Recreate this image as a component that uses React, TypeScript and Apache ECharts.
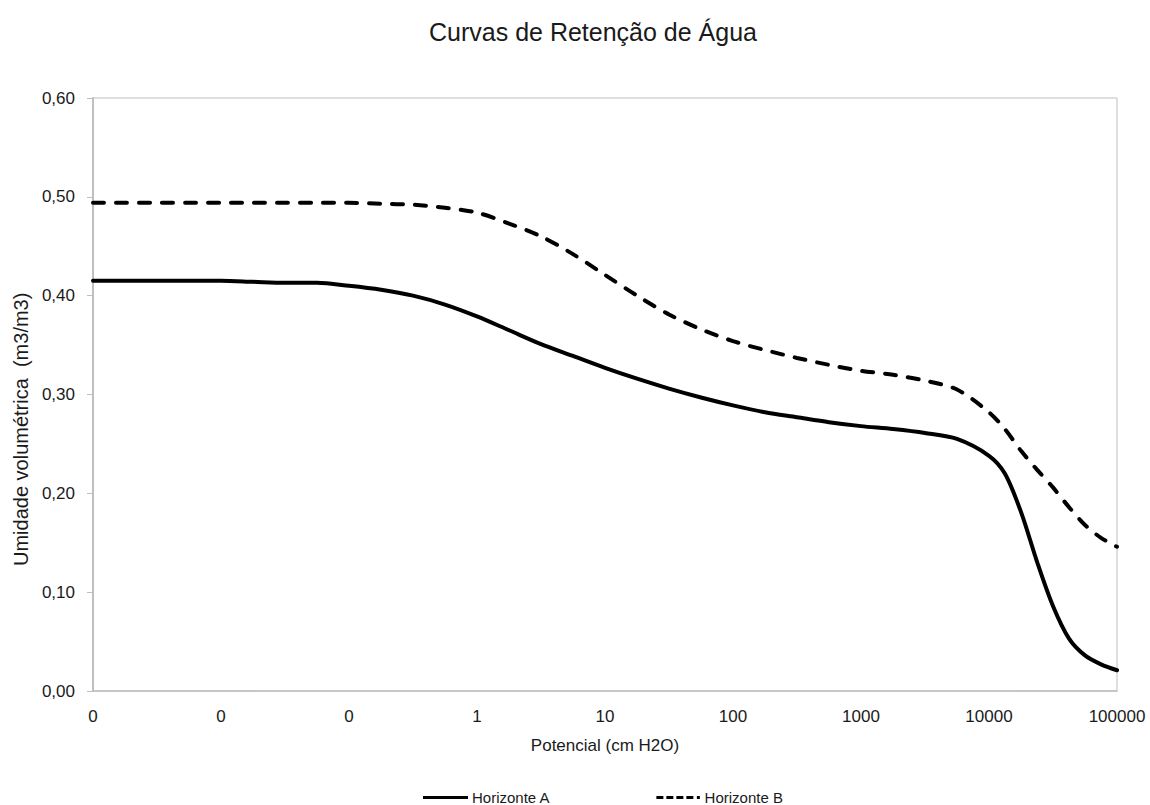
import React, { useEffect, useRef } from "react";
import * as echarts from "echarts";

const potencial: number[] = [
  0.001, 0.00178, 0.00316, 0.00562, 0.01, 0.0178, 0.0316, 0.0562, 0.1, 0.178,
  0.316, 0.562, 1, 1.78, 3.16, 5.62, 10, 17.8, 31.6, 56.2, 100, 178, 316, 562,
  1000, 1780, 3160, 5620, 10000, 13300, 17800, 23700, 31600, 42200, 56200,
  75000, 100000,
];

const horizonteA: number[] = [
  0.415, 0.415, 0.415, 0.415, 0.415, 0.414, 0.413, 0.413, 0.41, 0.406, 0.4,
  0.391, 0.379, 0.365, 0.351, 0.339, 0.327, 0.316, 0.306, 0.297, 0.289, 0.282,
  0.277, 0.272, 0.268, 0.265, 0.261, 0.255, 0.238, 0.22, 0.181, 0.131, 0.086,
  0.053, 0.036, 0.027, 0.021,
];

const horizonteB: number[] = [
  0.494, 0.494, 0.494, 0.494, 0.494, 0.494, 0.494, 0.494, 0.494, 0.493, 0.492,
  0.489, 0.484, 0.473, 0.46, 0.442, 0.421, 0.4, 0.381, 0.366, 0.354, 0.345,
  0.337, 0.33, 0.324, 0.32, 0.314, 0.305, 0.282, 0.265, 0.243, 0.224, 0.206,
  0.186, 0.168, 0.155, 0.146,
];

const seriesNames: string[] = ["Horizonte A", "Horizonte B"];
const titleText = "Curvas de Retenção de Água";
const xAxisName = "Potencial (cm H2O)";
const yAxisName = "Umidade volumétrica  (m3/m3)";

const FONT = "'Liberation Sans', Arial, sans-serif";
const AXIS_GRAY = "#bfbfbf";
const TEXT = "#1a1a1a";

const ICON_SOLID = "path://M0,0h45v3h-45z";
const ICON_DASH =
  "path://M0,0h7v3h-7z M10,0h7v3h-7z M20,0h7v3h-7z M30,0h7v3h-7z M40.5,0h3v3h-3z";

export default function App() {
  const ref = useRef<HTMLDivElement>(null);

  useEffect(() => {
    document.body.style.margin = "0";
    if (!ref.current) return;
    const chart = echarts.init(ref.current, undefined, { renderer: "svg" });
    const dataA = potencial.map((x, i) => [x, horizonteA[i]]);
    const dataB = potencial.map((x, i) => [x, horizonteB[i]]);
    chart.setOption({
      animation: false,
      backgroundColor: "#ffffff",
      textStyle: { fontFamily: FONT },
      title: {
        text: titleText,
        left: 588,
        top: 14,
        textAlign: "center",
        textStyle: {
          fontFamily: FONT,
          fontSize: 25,
          fontWeight: "normal",
          color: TEXT,
        },
      },
      grid: {
        left: 93,
        right: 33,
        top: 98,
        bottom: 114,
        show: true,
        borderColor: AXIS_GRAY,
        borderWidth: 1,
        containLabel: false,
      },
      graphic: [
        {
          type: "text",
          x: 21,
          y: 566,
          rotation: Math.PI / 2,
          style: {
            text: yAxisName,
            fontFamily: FONT,
            fontSize: 20,
            fill: TEXT,
            textAlign: "left",
            textVerticalAlign: "middle",
          },
        },
      ],
      legend: {
        data: [
          { name: seriesNames[0], icon: ICON_SOLID },
          { name: seriesNames[1], icon: ICON_DASH },
        ],
        left: 418,
        top: 785,
        itemWidth: 45,
        itemHeight: 3,
        itemGap: 106,
        itemStyle: { color: "#000000", borderWidth: 0 },
        textStyle: {
          fontFamily: FONT,
          fontSize: 15,
          color: TEXT,
          padding: [0, 0, 0, -1],
        },
      },
      xAxis: {
        type: "log",
        logBase: 10,
        min: 0.001,
        max: 100000,
        splitNumber: 8,
        name: xAxisName,
        nameLocation: "middle",
        nameGap: 46,
        nameTextStyle: { fontFamily: FONT, fontSize: 17, color: TEXT },
        axisLine: { show: true, lineStyle: { color: AXIS_GRAY, width: 1.5 } },
        axisTick: { show: false },
        splitLine: { show: false },
        minorTick: { show: false },
        axisLabel: {
          fontFamily: FONT,
          fontSize: 17,
          color: TEXT,
          margin: 17,
          formatter: (v: number) => (v < 1 ? "0" : String(Math.round(v))),
        },
      },
      yAxis: {
        type: "value",
        min: 0,
        max: 0.6,
        interval: 0.1,
        axisLine: { show: true, lineStyle: { color: AXIS_GRAY, width: 2 } },
        axisTick: {
          show: true,
          inside: false,
          length: 6,
          lineStyle: { color: AXIS_GRAY, width: 1 },
        },
        splitLine: { show: false },
        axisLabel: {
          fontFamily: FONT,
          fontSize: 17,
          color: TEXT,
          margin: 18,
          formatter: (v: number) => v.toFixed(2).replace(".", ","),
        },
      },
      series: [
        {
          name: seriesNames[0],
          type: "line",
          data: dataA,
          smooth: 0.3,
          symbol: "none",
          lineStyle: { color: "#000000", width: 4, cap: "round" },
          itemStyle: { color: "#000000" },
        },
        {
          name: seriesNames[1],
          type: "line",
          data: dataB,
          smooth: 0.3,
          symbol: "none",
          lineStyle: {
            color: "#000000",
            width: 4,
            type: [11, 12],
            cap: "round",
          },
          itemStyle: { color: "#000000" },
        },
      ],
    });
    return () => chart.dispose();
  }, []);

  return (
    <div
      ref={ref}
      style={{ width: 1150, height: 805, position: "absolute", left: 0, top: 0 }}
    />
  );
}
